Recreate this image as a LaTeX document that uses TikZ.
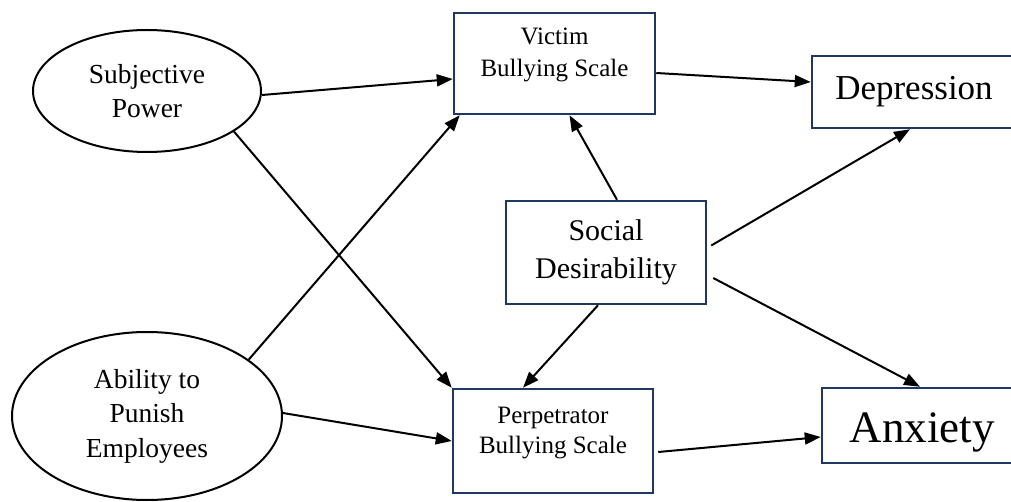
\documentclass[tikz,border=0pt]{standalone}
\usepackage{fontspec}
\setmainfont{Liberation Serif}
\usetikzlibrary{shapes.geometric,arrows.meta}
\definecolor{boxnavy}{RGB}{31,55,99}
\begin{document}
\begin{tikzpicture}[x=1pt,y=-1pt,
  construct/.style={ellipse,draw=black,line width=2pt,inner sep=0pt,align=center,
    font=\fontsize{27.5}{34.5}\selectfont},
  measure/.style={rectangle,draw=boxnavy,line width=2.5pt,inner sep=0pt,fill=white},
  caption/.style={align=center,inner sep=0pt},
  link/.style={line width=2pt,-{Triangle[length=16pt,width=12pt]}}]
\useasboundingbox (0,0) rectangle (1011,502);

% latent constructs
\node[construct,minimum width=228pt,minimum height=122pt] (sp) at (147,91) {Subjective\\Power};
\node[construct,minimum width=270pt,minimum height=168pt] (ab) at (147,416) {Ability to\\Punish\\Employees};

% measured scales
\node[measure,minimum width=201pt,minimum height=101pt] (victim) at (554.5,63.5) {};
\node[caption,font=\fontsize{25}{32}\selectfont] (victimtext) at ([yshift=8.5pt]victim.center) {Victim\\Bullying Scale};
\node[measure,minimum width=200pt,minimum height=104pt] (perp) at (553,441) {};
\node[caption,font=\fontsize{25}{30}\selectfont] (perptext) at ([yshift=7.5pt]perp.center) {Perpetrator\\Bullying Scale};
\node[measure,minimum width=200pt,minimum height=103pt,align=center,
  font=\fontsize{30}{38}\selectfont] (social) at (606,252.5) {Social\\Desirability};

% outcomes
\node[measure,minimum width=204pt,minimum height=72pt,font=\fontsize{35}{42}\selectfont,
  text height=24pt,text depth=8pt] (dep) at (914,92) {Depression};
\node[measure,minimum width=200pt,minimum height=75pt,font=\fontsize{45}{54}\selectfont,
  text height=40pt,text depth=7pt] (anx) at (922,425.5) {Anxiety};

% paths
\draw[link] ([yshift=-4pt]sp.east) -- ([yshift=-15.5pt]victim.west);
\draw[link] (sp.-25) -- (perp.north west);
\draw[link] (ab.29) -- ([xshift=7pt]victim.south west);
\draw[link] ([yshift=3pt]ab.east) -- (perp.west);
\draw[link] ([xshift=11pt]social.north) -- ([xshift=15pt]victim.south);
\draw[link] ([xshift=-8pt]social.south) -- ([xshift=-30pt]perp.north);
\draw[link] ([xshift=4pt,yshift=7pt]social.east) -- ([xshift=-4pt]dep.south);
\draw[link] ([xshift=6pt,yshift=-25.5pt]social.east) -- ([xshift=-2pt]anx.north);
\draw[link] ([yshift=-9.5pt]victim.east) -- ([yshift=10pt]dep.west);
\draw[link] ([xshift=4pt,yshift=-11pt]perp.east) -- ([yshift=-11.5pt]anx.west);
\end{tikzpicture}
\end{document}
